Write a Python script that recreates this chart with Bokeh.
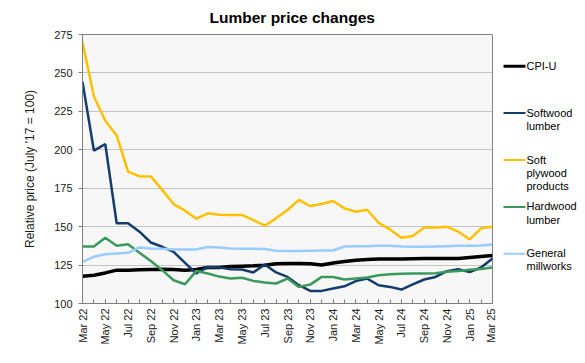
import math
from bokeh.plotting import figure
from bokeh.layouts import row
from bokeh.models import Range1d, FixedTicker, ColumnDataSource
from bokeh.core.properties import value
from bokeh.embed import file_html
from bokeh.resources import INLINE

# ---------------- data ----------------
months = ["Mar 22", "Apr 22", "May 22", "Jun 22", "Jul 22", "Aug 22", "Sep 22", "Oct 22",
          "Nov 22", "Dec 22", "Jan 23", "Feb 23", "Mar 23", "Apr 23", "May 23", "Jun 23",
          "Jul 23", "Aug 23", "Sep 23", "Oct 23", "Nov 23", "Dec 23", "Jan 24", "Feb 24",
          "Mar 24", "Apr 24", "May 24", "Jun 24", "Jul 24", "Aug 24", "Sep 24", "Oct 24",
          "Nov 24", "Dec 24", "Jan 25", "Feb 25", "Mar 25"]

cpi_u = [117.8, 118.4, 119.9, 121.7, 121.7, 121.9, 122.1, 122.3, 122.1, 121.7, 122.1, 123.4,
         123.4, 124.1, 124.3, 124.5, 124.9, 125.8, 126.0, 126.0, 125.8, 125.1, 126.4, 127.3,
         128.2, 128.6, 128.9, 128.9, 128.9, 129.1, 129.3, 129.3, 129.3, 129.3, 130.0, 130.6, 131.2]

softwood = [244.2, 199.5, 203.7, 152.2, 152.2, 146.7, 139.7, 136.9, 133.6, 126.4, 119.5, 123.8,
            123.5, 122.3, 122.1, 120.2, 125.4, 120.2, 117.3, 111.9, 108.2, 108.2, 109.7, 111.2,
            114.6, 116.2, 111.9, 110.8, 109.1, 112.5, 115.6, 117.3, 121.0, 122.3, 120.4, 123.4, 129.3]

plywood = [270.0, 234.8, 218.9, 209.3, 185.8, 182.8, 182.6, 173.9, 164.7, 160.4, 155.2, 158.7,
           157.8, 157.6, 157.6, 154.3, 150.6, 155.4, 160.8, 167.4, 163.4, 164.7, 166.7, 161.9,
           159.7, 161.0, 152.5, 148.2, 142.8, 143.9, 149.5, 149.5, 149.9, 146.7, 141.7, 148.9, 149.9]

hardwood = [137.1, 137.1, 142.8, 137.5, 138.6, 133.0, 127.7, 121.7, 115.1, 112.5, 121.2, 119.5,
            117.5, 116.2, 116.7, 114.7, 113.6, 113.0, 116.2, 110.8, 112.3, 117.3, 117.3, 115.6,
            116.3, 116.9, 118.4, 119.1, 119.3, 119.5, 119.5, 119.7, 120.6, 121.2, 121.9, 122.5, 123.4]

millworks = [127.1, 130.4, 132.1, 132.6, 133.0, 136.5, 135.8, 135.6, 135.2, 135.2, 135.2, 136.7,
             136.5, 135.8, 135.6, 135.6, 135.4, 134.3, 134.1, 134.1, 134.3, 134.5, 134.5, 137.1,
             137.2, 137.3, 137.5, 137.5, 137.1, 136.9, 136.9, 137.1, 137.3, 137.5, 137.5, 137.8, 138.4]

series_labels = ["CPI-U", "Softwood\nlumber", "Soft\nplywood\nproducts", "Hardwood\nlumber",
                 "General\nmillworks"]
y_ticks = [100, 125, 150, 175, 200, 225, 250, 275]

# ---------------- styles ----------------
FONT = "Liberation Sans"
colors = ["#000000", "#143c6c", "#ffc000", "#3a9a5c", "#99ccff"]
widths = [3.5, 2.5, 2.5, 2.5, 2.5]
W_MAIN, W_LEG, H = 496, 89, 363
B_TOP, B_BOTTOM = 34, 60
FRAME_H = H - B_TOP - B_BOTTOM

x_idx = list(range(len(months)))
src = ColumnDataSource(dict(x=x_idx, cpi=cpi_u, soft=softwood, ply=plywood,
                            hard=hardwood, mill=millworks))
cols = ["cpi", "soft", "ply", "hard", "mill"]

p = figure(width=W_MAIN, height=H, x_range=Range1d(0, len(months) - 1),
           y_range=Range1d(y_ticks[0], y_ticks[-1]), output_backend="svg",
           toolbar_location=None, min_border_left=82, min_border_right=4,
           min_border_top=B_TOP, min_border_bottom=B_BOTTOM)

p.title.text = "Lumber price changes"
p.title.align = "left"
p.title.offset = 127
p.title.vertical_align = "top"
p.title.text_font = FONT
p.title.text_font_size = "15.5px"
p.title.text_font_style = "bold"
p.title.text_color = "#000000"
p.title.standoff = 14

p.background_fill_color = "#f7f7f7"
p.border_fill_color = "white"
p.outline_line_color = "#808080"

for c, col, w in zip(cols, colors, widths):
    p.line("x", c, source=src, line_color=col, line_width=w)

# y axis
p.yaxis.ticker = FixedTicker(ticks=y_ticks)
p.ygrid.ticker = FixedTicker(ticks=y_ticks)
p.ygrid.grid_line_color = "#c4c4c4"
p.xgrid.visible = False
p.yaxis.axis_label = "Relative price (July '17 = 100)"
p.yaxis.axis_label_text_font = FONT
p.yaxis.axis_label_text_font_size = "12px"
p.yaxis.axis_label_text_font_style = "normal"
p.yaxis.axis_label_text_color = "#1a1a1a"
p.yaxis.axis_label_standoff = 14
p.yaxis.major_tick_out = 4
p.yaxis.major_tick_in = 0
p.yaxis.minor_tick_out = 0
p.yaxis.minor_tick_in = 0
p.yaxis.major_label_standoff = 6

# x axis
p.xaxis.ticker = FixedTicker(ticks=x_idx[::2], minor_ticks=x_idx)
p.xaxis.major_label_overrides = {i: months[i] for i in x_idx[::2]}
p.xaxis.major_label_orientation = math.pi / 2
p.xaxis.major_tick_in = 4
p.xaxis.major_tick_out = 0
p.xaxis.minor_tick_in = 4
p.xaxis.minor_tick_out = 0
p.xaxis.major_label_standoff = 5

for ax in (p.xaxis, p.yaxis):
    ax.axis_line_color = "#808080"
    ax.major_tick_line_color = "#808080"
    ax.minor_tick_line_color = "#808080"
    ax.major_label_text_font = FONT
    ax.major_label_text_font_size = "11px"
    ax.major_label_text_color = "#1a1a1a"

# legend panel (y in pixels below the top of the plotting frame)
leg = figure(width=W_LEG, height=H, x_range=Range1d(0, W_LEG), y_range=Range1d(FRAME_H, 0),
             output_backend="svg", toolbar_location=None, min_border_left=0,
             min_border_right=0, min_border_top=B_TOP, min_border_bottom=B_BOTTOM,
             x_axis_type=None, y_axis_type=None)
leg.outline_line_color = None
leg.grid.visible = False
leg.background_fill_color = "white"
leg.border_fill_color = "white"

first_y = 31.7
step = 46.9
ys = [first_y + k * step for k in range(len(series_labels))]
leg.segment(x0=[7] * len(ys), x1=[29] * len(ys), y0=ys, y1=ys,
            line_color=colors, line_width=[w - 0.5 for w in widths])
leg.text(x=[30] * len(ys), y=[y - 6.5 for y in ys], text=series_labels,
         text_font=value(FONT), text_font_size="11px", text_color="#000000",
         text_baseline="top", text_align="left", text_line_height=1.1)

layout = row(p, leg)
open("out.html", "w").write(file_html(layout, INLINE))
